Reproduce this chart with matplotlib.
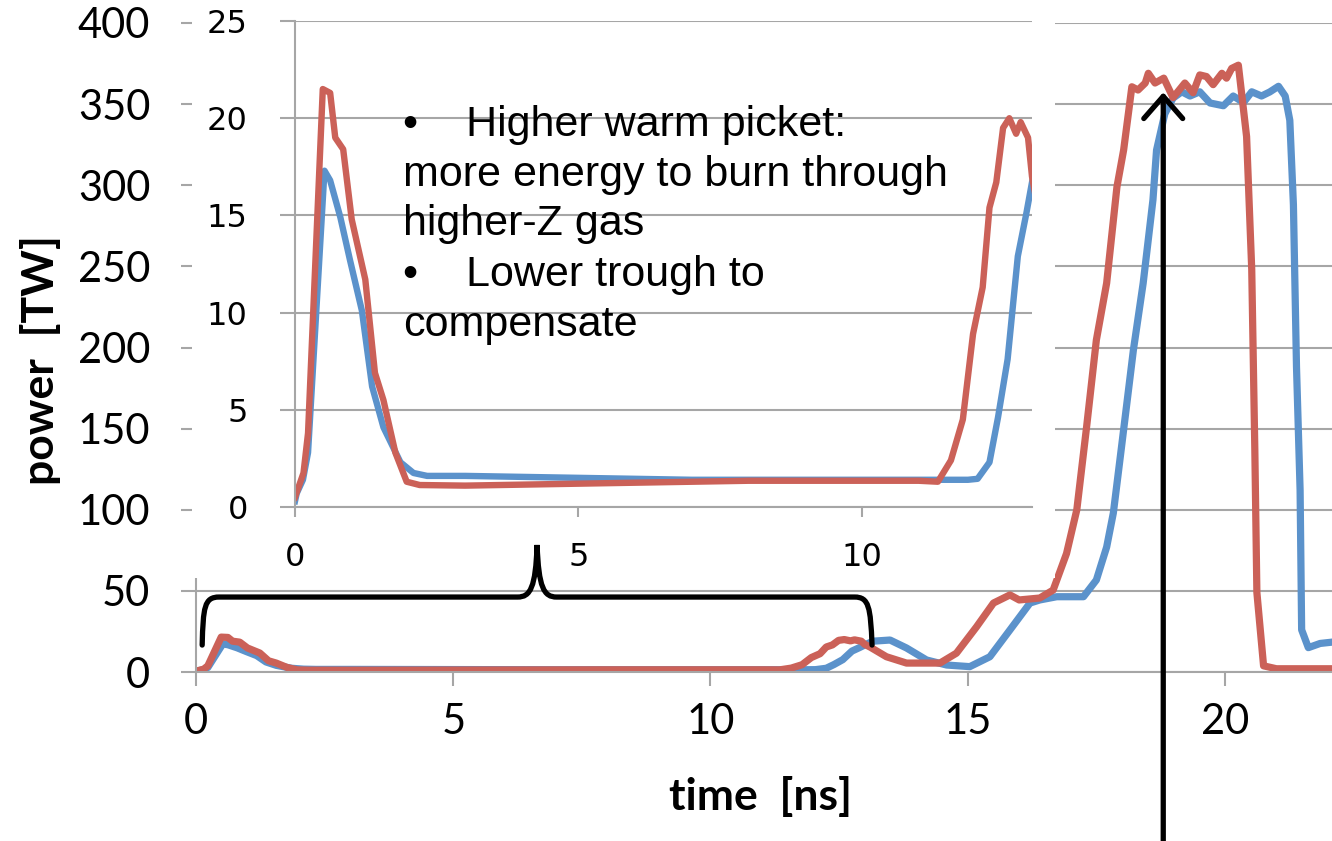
import matplotlib
matplotlib.use('Agg')
import matplotlib.pyplot as plt
from matplotlib.patches import Rectangle, PathPatch
from matplotlib.path import Path

# pulse shapes (time in ns, power in TW)
t_blue = [0, 0.03, 0.14, 0.23, 0.52, 0.62, 0.8, 0.97, 1.18, 1.36, 1.56, 1.86, 2.09, 2.33,
          3.0, 4.0, 5.0, 6.0, 7.0, 8.0, 9.0, 10.0, 11.0, 11.87, 12.04, 12.25, 12.4, 12.57,
          12.75, 12.9, 13.0, 13.16, 13.49, 13.81, 14.2, 14.59, 15.04, 15.43, 15.82, 16.21,
          16.4, 16.73, 17.25, 17.5, 17.7, 17.83, 17.99, 18.22, 18.41, 18.6, 18.67, 18.83,
          18.99, 19.16, 19.32, 19.51, 19.71, 19.97, 20.16, 20.36, 20.52, 20.71, 20.87, 21.04,
          21.17, 21.26, 21.33, 21.39, 21.46, 21.49, 21.62, 21.85, 22.08]
p_blue = [0.3, 0.7, 1.4, 2.8, 17.3, 16.8, 14.9, 12.7, 10.1, 6.2, 4.1, 2.3, 1.75, 1.6,
          1.6, 1.55, 1.5, 1.45, 1.4, 1.4, 1.4, 1.4, 1.4, 1.4, 1.45, 2.3, 4.6, 7.6,
          12.9, 15.1, 16.7, 19.0, 19.7, 14.8, 7.4, 4.3, 3.3, 9.4, 25.9, 42.5,
          44.4, 46.4, 46.4, 56.7, 77, 98, 139, 198.5, 239.7, 291, 321.7, 344,
          353.7, 357.6, 355, 357.6, 350.7, 349, 355, 351, 357.6, 355, 357.5, 361,
          355, 340, 288, 188, 112, 26, 15, 17.6, 18.4]

t_red = [0, 0.15, 0.23, 0.49, 0.62, 0.71, 0.85, 1.0, 1.24, 1.41, 1.56, 1.77, 1.97, 2.2,
         3.0, 4.0, 5.0, 6.0, 7.0, 8.0, 9.0, 10.0, 11.0, 11.34, 11.57, 11.78, 11.96, 12.13,
         12.25, 12.37, 12.49, 12.6, 12.72, 12.8, 12.93, 13.0, 13.1, 13.42, 13.81, 14.46,
         14.78, 15.17, 15.5, 15.82, 16.0, 16.4, 16.66, 16.92, 17.12, 17.31, 17.5, 17.7,
         17.9, 18.03, 18.19, 18.31, 18.45, 18.51, 18.64, 18.81, 18.99, 19.22, 19.38, 19.51,
         19.64, 19.77, 19.94, 20.03, 20.13, 20.26, 20.42, 20.52, 20.58, 20.62, 20.75, 21.0,
         22.08]
p_red = [0.5, 1.75, 3.8, 21.5, 21.3, 19.0, 18.4, 14.8, 11.7, 6.9, 5.5, 2.8, 1.3, 1.13,
         1.1, 1.15, 1.2, 1.25, 1.3, 1.35, 1.35, 1.35, 1.35, 1.3, 2.4, 4.5, 8.9, 11.3,
         15.4, 16.7, 19.5, 20.0, 19.2, 19.8, 19.0, 17.0, 15.4, 9.4, 5.5, 5.5,
         11.6, 27.8, 42.5, 47.5, 44.4, 45.6, 50.5, 73, 100, 151, 204.6, 239.7,
         299, 321.7, 360.7, 358.7, 363, 369, 363, 366, 354, 363, 357, 368,
         367, 362, 369, 366, 372, 374, 330, 248, 137, 49, 3.8, 2.0,
         2.0]

main_xticks = [0, 5, 10, 15, 20]
main_yticks = [0, 50, 100, 150, 200, 250, 300, 350, 400]
inset_xticks = [0, 5, 10]
inset_yticks = [0, 5, 10, 15, 20, 25]

note_lines = ['\u2022    Higher warm picket:',
              'more energy to burn through',
              'higher-Z gas',
              '\u2022    Lower trough to',
              'compensate']

BLUE = '#5B92CB'
RED = '#CB6158'
GRID = '#A6A6A6'

plt.rcParams['font.family'] = ['Lato', 'DejaVu Sans']

W, H = 1332, 841
fig = plt.figure(figsize=(W / 100, H / 100), dpi=100)


def fx(px):
    return px / W


def fy(py):
    return 1 - py / H


# main chart
ax = fig.add_axes([fx(196), fy(672), fx(1332) - fx(196), fy(23) - fy(672)], zorder=0)
ax.plot(t_blue, p_blue, color=BLUE, lw=5.2, solid_joinstyle='round')
ax.plot(t_red, p_red, color=RED, lw=5.2, solid_joinstyle='round')
ax.set_xlim(0, 22.08)
ax.set_ylim(0, 400)
ax.set_xticks(main_xticks)
ax.set_yticks(main_yticks)
ax.grid(axis='y', color=GRID, lw=1.5)
ax.set_axisbelow(True)
for s in ['top', 'right']:
    ax.spines[s].set_visible(False)
for s in ['left', 'bottom']:
    ax.spines[s].set_color(GRID)
    ax.spines[s].set_linewidth(1.5)
ax.tick_params(axis='y', length=11, width=1.5, color=GRID, pad=22, labelsize=30)
ax.tick_params(axis='x', length=10, width=1.5, color=GRID, pad=12, labelsize=30)
ax.set_xlabel('time  [ns]', fontsize=32, fontweight='bold')
ax.xaxis.set_label_coords(0.497, -0.1926)
ax.xaxis.label.set_va('center')
ax.set_ylabel('power  [TW]', fontsize=32, fontweight='bold')
ax.yaxis.set_label_coords(-0.137, 0.481)
ax.yaxis.label.set_va('center')

# arrow pointing at the main drive
ax.annotate('', xy=(18.8, 359), xytext=(18.8, -150), annotation_clip=False,
            arrowprops=dict(arrowstyle='->,head_length=0.8,head_width=0.7',
                            mutation_scale=20, color='black', lw=3.8))

# white backdrop behind the inset
fig.add_artist(Rectangle((fx(192), fy(578)), fx(1055) - fx(192), 1 - fy(578),
                         transform=fig.transFigure, facecolor='white',
                         edgecolor='none', zorder=1))

# curly bracket marking the zoomed range
verts = [(0.12, 16.6),
         (0.14, 40), (0.16, 46.2), (0.45, 46.2),
         (6.25, 46.2),
         (6.5, 46.2), (6.6, 52), (6.63, 78.3),
         (6.66, 52), (6.76, 46.2), (7.01, 46.2),
         (12.8, 46.2),
         (13.08, 46.2), (13.11, 40), (13.14, 16.6)]
codes = [Path.MOVETO,
         Path.CURVE4, Path.CURVE4, Path.CURVE4,
         Path.LINETO,
         Path.CURVE4, Path.CURVE4, Path.CURVE4,
         Path.CURVE4, Path.CURVE4, Path.CURVE4,
         Path.LINETO,
         Path.CURVE4, Path.CURVE4, Path.CURVE4]
fig.add_artist(PathPatch(Path(verts, codes), transform=ax.transData, fill=False,
                         edgecolor='black', lw=3.8, capstyle='round', zorder=4))

# inset: zoom on the picket and trough
ins = fig.add_axes([fx(295), fy(507), fx(1032) - fx(295), fy(21) - fy(507)], zorder=2)
ins.patch.set_alpha(0)
ins.plot(t_blue, p_blue, color=BLUE, lw=4.6, solid_joinstyle='round')
ins.plot(t_red, p_red, color=RED, lw=4.6, solid_joinstyle='round')
ins.set_xlim(0, 13)
ins.set_ylim(0, 25)
ins.set_xticks(inset_xticks)
ins.set_yticks(inset_yticks)
ins.grid(axis='y', color=GRID, lw=1.5)
ins.set_axisbelow(True)
for s in ['top', 'right']:
    ins.spines[s].set_visible(False)
for s in ['left', 'bottom']:
    ins.spines[s].set_color(GRID)
    ins.spines[s].set_linewidth(1.5)
ins.tick_params(axis='y', length=11, width=1.5, color=GRID, pad=23, labelsize=23,
                labelfontfamily='DejaVu Sans')
ins.tick_params(axis='x', length=7, width=1.5, color=GRID, pad=18, labelsize=23,
                labelfontfamily='DejaVu Sans')

# notes
for line, base in zip(note_lines, [136, 186, 235, 286, 336]):
    fig.text(fx(403), fy(base), line, fontsize=31, family='Liberation Sans',
             va='baseline', ha='left', zorder=5)

fig.savefig('out.png', dpi=100)
